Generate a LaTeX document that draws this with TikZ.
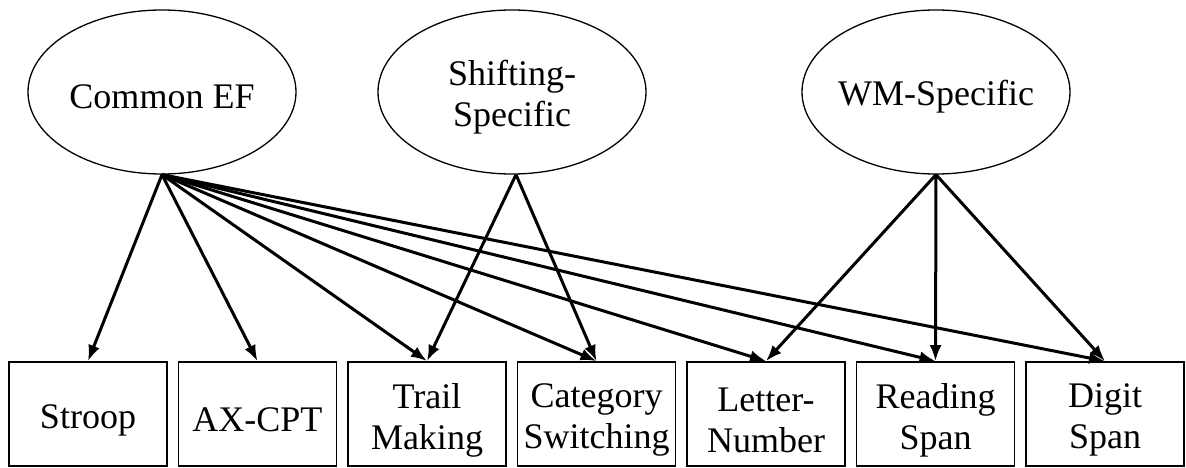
\documentclass[tikz,border=0pt]{standalone}
\usepackage{fontspec}
\setmainfont{Liberation Serif}
\usetikzlibrary{arrows.meta,shapes.geometric}
\begin{document}
\begin{tikzpicture}[x=1pt,y=-1pt,
  lbl/.style={align=center,font=\fontsize{36}{41}\selectfont,inner sep=0pt,yshift=-5pt},
  factor/.style={draw,ellipse,line width=1.3pt,minimum width=268pt,minimum height=164pt,inner sep=0pt,
    label={[lbl]center:#1}},
  task/.style={draw,rectangle,line width=1.8pt,minimum width=158pt,minimum height=104pt,inner sep=0pt,
    label={[lbl,yshift=-1pt]center:#1}},
  load/.style={line width=3pt,-{Latex[length=16pt,width=12pt]}}]
\useasboundingbox (0,0) rectangle (1186,468);
% latent factors
\node[factor={Common EF}] (common) at (162,92) {};
\node[factor={Shifting-\\Specific}] (shift) at (512,92) {};
\node[factor={WM-Specific}] (wm) at (936,92) {};
% observed tasks
\node[task={Stroop}] (stroop) at (88,414) {};
\node[task={AX-CPT}] (axcpt) at (257.5,414) {};
\node[task={Trail\\Making}] (trail) at (427,414) {};
\node[task={Category\\Switching}] (cat) at (596.5,414) {};
\node[task={Letter-\\Number}] (letter) at (766,414) {};
\node[task={Reading\\Span}] (read) at (935.5,414) {};
\node[task={Digit\\Span}] (digit) at (1105,414) {};
% loadings
\foreach \t in {stroop,axcpt,trail,cat,letter,read,digit}
  \draw[load] (common.south) -- (\t.north);
\foreach \t in {trail,cat}
  \draw[load] ([xshift=4pt]shift.south) -- (\t.north);
\foreach \t in {letter,read,digit}
  \draw[load] (wm.south) -- (\t.north);
\end{tikzpicture}
\end{document}
